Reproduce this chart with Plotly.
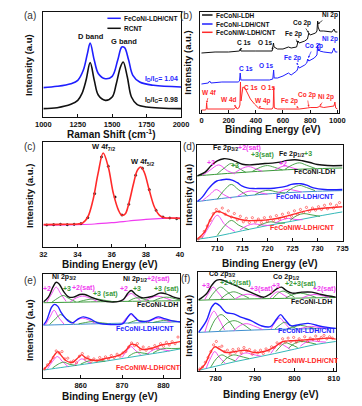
import plotly.graph_objects as go

# ---------------- DATA ----------------
# (a) Raman
a_x_rcnt = [1000, 1100, 1200, 1250, 1280, 1310, 1340, 1370, 1400, 1450, 1500, 1530, 1560, 1580, 1610, 1640, 1680, 1750, 2000]
a_y_rcnt = [25, 28, 38, 50, 70, 110, 163, 110, 65, 50, 60, 100, 150, 165, 120, 60, 38, 30, 25]
a_x_cnt = [1000, 1100, 1200, 1250, 1290, 1320, 1340, 1370, 1400, 1450, 1500, 1540, 1570, 1590, 1620, 1650, 1700, 1800, 2000]
a_y_cnt = [88, 92, 100, 110, 140, 190, 222, 170, 130, 115, 122, 170, 210, 208, 170, 125, 105, 95, 90]

# (b) XPS survey
b_x_ldh = [0, 100, 200, 280, 285, 290, 400, 520, 530, 534, 560, 600, 640, 660, 700, 712, 720, 760, 780, 790, 800, 840, 850, 855, 858, 862, 870, 900, 960, 975, 985, 1000]
b_y_ldh = [60, 61, 61, 62, 64, 62, 62, 62, 70, 66, 64, 64, 66, 65, 66, 72, 70, 72, 74, 80, 78, 80, 82, 92, 86, 84, 82, 82, 81, 84, 81, 81]
b_x_cnt = [0, 50, 60, 70, 150, 200, 270, 280, 285, 290, 400, 500, 525, 531, 535, 560, 600, 640, 660, 700, 708, 712, 720, 760, 775, 782, 790, 830, 850, 855, 860, 864, 870, 900, 960, 975, 985, 1000]
b_y_cnt = [29, 30, 32, 30, 31, 31, 31, 32, 40, 33, 33, 33, 34, 43, 35, 35, 37, 40, 38, 42, 44, 47, 45, 48, 50, 54, 52, 55, 58, 68, 62, 64, 62, 61, 60, 65, 61, 61]
b_x_w = [0, 30, 35, 38, 42, 100, 150, 200, 240, 255, 262, 275, 283, 287, 291, 297, 305, 320, 340, 360, 390, 420, 470, 520, 528, 532, 536, 560, 620, 700, 720, 780, 800, 850, 870, 900, 950, 975, 982, 988, 1000]
b_y_w = [3, 3, 4, 10, 4, 4, 4, 4, 4, 6, 4, 5, 8, 31, 12, 18, 26, 25, 20, 14, 9, 5, 4, 4, 6, 26, 5, 4, 4, 3.5, 4, 5, 5.5, 5.5, 6.5, 5.5, 6, 7, 11, 5, 4]

# (c) W 4f
c_x_fit = [32, 33, 34, 34.3, 34.6, 34.9, 35.2, 35.5, 35.8, 36.1, 36.4, 36.6, 36.8, 37.0, 37.3, 37.5, 37.7, 37.9, 38.2, 38.5, 38.8, 39.1, 39.5, 40]
c_y_fit = [67, 68, 69, 72, 90, 140, 220, 282, 240, 160, 110, 95, 100, 130, 195, 230, 240, 225, 170, 120, 95, 88, 87, 86]
c_x_bg = [32, 33, 34, 35, 36, 37, 38, 39, 40]
c_y_bg = [66, 66, 67, 69, 73, 78, 83, 86, 87]
c_x_pts = [32.2, 32.6, 33.0, 33.4, 33.8, 34.2, 34.6, 35.0, 35.4, 35.8, 36.2, 36.6, 37.0, 37.4, 37.8, 38.2, 38.6, 39.0, 39.4, 39.8]
c_y_pts = [66, 67, 68, 67, 68, 70, 88, 160, 270, 242, 150, 96, 128, 215, 236, 172, 110, 90, 87, 85]

# (d) Fe 2p
d_top_env_x = [706, 707.5, 708.8, 710, 711.3, 712.5, 713.7, 715, 716.5, 718, 719.5, 721, 722.5, 724, 725.5, 727, 728.5, 730, 732, 735]
d_top_env_y = [190, 200, 220, 234, 240, 238, 232, 224, 222, 224, 226, 227, 230, 235, 237, 234, 229, 223, 220, 220]
d_top_bg_x = [706, 712, 718, 724, 730, 735]
d_top_bg_y = [190, 197, 203, 208, 211, 213]
d_top_comp = [
    ("m", [707, 708.5, 710.3, 712, 713.5], [191, 206, 222, 205, 196]),
    ("g", [710, 711.5, 712.8, 714.2, 715.7], [196, 214, 226, 213, 200]),
    ("m", [713.5, 715, 716.3, 717.6, 719], [199, 212, 217, 211, 203]),
    ("g", [717, 718.6, 720, 721.4, 723], [203, 215, 220, 215, 207]),
    ("m", [721.5, 722.7, 723.6, 724.6, 726], [207, 216, 219, 215, 209]),
    ("g", [723.5, 725, 726.4, 727.8, 729.5], [209, 222, 228, 221, 212]),
]
d_mid_env_x = [706, 707, 708.1, 709, 709.9, 710.8, 711.8, 713.1, 714, 715, 716, 717.2, 718.5, 719.7, 721.3, 722.9, 724, 724.8, 725.8, 726.7, 728, 729.2, 731.4, 735]
d_mid_env_y = [115, 128, 150, 165, 175, 178, 180, 177, 170, 160, 155, 153, 153, 153, 154, 157, 161, 165, 167, 167, 162, 155, 150, 150]
d_mid_bg_x = [706, 712, 718, 724, 730, 735]
d_mid_bg_y = [115, 126, 135, 141, 145, 147]
d_mid_comp = [
    ("m", [707, 708.5, 709.8, 711.2, 712.8], [117, 135, 150, 136, 124]),
    ("g", [710, 711.5, 712.8, 714.2, 716], [122, 150, 165, 150, 132]),
    ("m", [714, 715.5, 716.8, 718.2, 720], [130, 142, 146, 142, 136]),
    ("g", [717.5, 719, 720.3, 721.6, 723.5], [135, 145, 148, 144, 139]),
    ("m", [722, 723.2, 724.2, 725.3, 726.8], [140, 148, 151, 148, 143]),
    ("g", [723.8, 725.2, 726.5, 727.8, 729.5], [142, 156, 162, 156, 147]),
]
d_bot_env_x = [706, 707.4, 708.7, 709.7, 710.6, 712, 713.6, 715.7, 718.2, 720.7, 723.2, 725.7, 728.3, 730.8, 735]
d_bot_env_y = [5, 25, 65, 85, 85, 75, 67, 60, 60, 63, 70, 80, 90, 95, 100]
d_bot_bg_x = [706, 710, 715, 720, 725, 730, 735]
d_bot_bg_y = [5, 14, 30, 45, 58, 72, 85]
d_bot_comp = [
    ("m", [707, 708.5, 710, 711.5, 713.5], [9, 45, 75, 48, 28]),
    ("g", [710, 711.5, 712.8, 714.3, 716.3], [16, 45, 60, 46, 33]),
    ("m", [714.5, 716, 717.3, 718.7, 720.5], [32, 45, 50, 47, 45]),
    ("g", [718, 719.5, 720.7, 722, 723.5], [42, 52, 56, 53, 52]),
    ("m", [721.5, 723, 724.2, 725.5, 727], [52, 62, 66, 63, 62]),
    ("g", [724.5, 726, 727.3, 728.5, 730.5], [60, 75, 80, 77, 72]),
]
d_pts_x = [706.2, 706.8, 707.4, 708.0, 708.6, 709.2, 709.8, 710.4, 711.0, 711.6, 712.2, 712.8, 713.4, 714.0, 714.6, 715.2,
           715.8, 716.4, 717.0, 717.6, 718.2, 718.8, 719.4, 720.0, 720.6, 721.2, 721.8, 722.4, 723.0, 723.6, 724.2, 724.8,
           725.4, 726.0, 726.6, 727.2, 727.8, 728.4, 729.0, 729.6, 730.2, 730.8, 731.4, 732.0, 732.6, 733.2, 733.8, 734.4]
d_pts_y = [6, 12, 28, 44, 60, 80, 92, 86, 96, 78, 88, 70, 80, 62, 72, 56, 66, 54, 68, 56, 64, 54, 68, 58, 70, 60, 74, 64,
           78, 68, 82, 72, 88, 78, 92, 84, 98, 86, 96, 90, 100, 92, 104, 94, 108, 96, 104, 112]

# (e) Ni 2p
e_top_env_x = [851, 852.2, 853.3, 854.1, 854.8, 856, 857.2, 858.3, 859.8, 861, 862.5, 864.8, 867.9, 870.2, 871.4, 872.2, 873.3, 874.8, 877.2, 879.1, 880.6, 882.5, 884]
e_top_env_y = [230, 245, 275, 290, 285, 260, 245, 245, 253, 253, 245, 235, 230, 237, 257, 265, 253, 243, 247, 257, 255, 245, 240]
e_top_bg_x = [851, 860, 870, 884]
e_top_bg_y = [228, 230, 232, 234]
e_top_comp = [
    ("m", [851.8, 853, 854.1, 855.2, 856.5], [229, 255, 275, 255, 232]),
    ("g", [853, 854.5, 855.8, 857, 858.8], [229, 242, 250, 242, 231]),
    ("m", [857.5, 859, 860.5, 862, 864], [231, 243, 248, 243, 232]),
    ("g", [859.5, 861.5, 863.5, 865.5, 867.5], [231, 237, 240, 236, 232]),
    ("m", [870, 871.2, 872.2, 873.2, 874.5], [232, 248, 256, 247, 234]),
    ("g", [871.5, 872.7, 873.8, 875, 876.5], [232, 240, 243, 240, 234]),
    ("m", [875.5, 877.2, 878.6, 880, 882], [233, 244, 248, 244, 235]),
    ("g", [877.5, 879.3, 880.7, 882.2, 884], [233, 242, 245, 242, 236]),
]
e_mid_env_x = [851, 851.8, 853, 853.7, 854.5, 855.2, 856.4, 857.9, 859.5, 860.6, 862.2, 864.1, 867.2, 870.2, 871.4, 872.2, 872.9, 874.1, 876.4, 878.7, 880.2, 882.2, 884]
e_mid_env_y = [160, 175, 215, 223, 217, 200, 180, 167, 180, 185, 180, 167, 162, 165, 185, 195, 187, 173, 173, 185, 180, 173, 170]
e_mid_bg_x = [851, 860, 870, 884]
e_mid_bg_y = [160, 163, 166, 170]
e_mid_comp = [
    ("m", [851.5, 852.6, 853.6, 854.6, 856], [161, 185, 205, 185, 163]),
    ("g", [852.5, 854, 855.2, 856.5, 858.5], [162, 180, 192, 180, 164]),
    ("m", [858, 859.3, 860.5, 861.8, 863.5], [164, 177, 181, 177, 165]),
    ("g", [859.5, 861.2, 862.8, 864.5, 866.5], [164, 168, 171, 168, 165]),
    ("m", [870, 871.2, 872.1, 873, 874.5], [166, 184, 192, 183, 168]),
    ("g", [871.5, 872.8, 873.8, 875, 876.5], [166, 172, 175, 172, 168]),
    ("m", [876, 877.5, 878.7, 880, 881.8], [168, 177, 181, 177, 169]),
    ("g", [877.5, 879.3, 880.7, 882.2, 884], [168, 173, 175, 173, 170]),
]
e_bot_env_x = [851, 852.5, 853.7, 854.5, 855.2, 856.4, 857.9, 859.5, 860.2, 861.4, 863.3, 866.4, 869.5, 871, 872.2, 873.3, 874.8, 877.2, 879.5, 881.8, 884]
e_bot_env_y = [25, 45, 70, 80, 70, 53, 47, 63, 70, 60, 53, 60, 70, 85, 102, 100, 87, 90, 100, 105, 110]
e_bot_bg_x = [851, 856, 861, 866, 871, 876, 881, 884]
e_bot_bg_y = [24, 33, 42, 51, 61, 71, 81, 88]
e_bot_comp = [
    ("m", [852, 853.2, 854.4, 855.6, 857], [28, 50, 65, 50, 34]),
    ("g", [853.2, 854.6, 855.9, 857.2, 859], [30, 42, 48, 42, 38]),
    ("m", [858.5, 859.5, 860.3, 861.2, 862.5], [38, 52, 58, 52, 44]),
    ("g", [860, 861.5, 862.8, 864.2, 866], [42, 50, 54, 52, 51]),
    ("m", [870, 871.3, 872.2, 873.1, 874.5], [62, 85, 95, 85, 70]),
    ("g", [871.5, 872.8, 873.8, 874.8, 876.5], [65, 75, 78, 76, 73]),
    ("m", [876, 877.5, 878.7, 879.8, 881.5], [72, 85, 89, 86, 82]),
    ("g", [877.5, 879.3, 880.7, 882, 884], [76, 87, 90, 89, 90]),
]
e_pts_x = [851.3, 852.0, 852.7, 853.4, 854.1, 854.8, 855.5, 856.2, 856.9, 857.6, 858.3, 859.0, 859.7, 860.4, 861.1, 861.8,
           862.5, 863.2, 863.9, 864.6, 865.3, 866.0, 866.7, 867.4, 868.1, 868.8, 869.5, 870.2, 870.9, 871.6, 872.3, 873.0,
           873.7, 874.4, 875.1, 875.8, 876.5, 877.2, 877.9, 878.6, 879.3, 880.0, 880.7, 881.4, 882.1, 882.8, 883.5]
e_pts_y = [28, 40, 50, 62, 82, 76, 80, 58, 60, 48, 52, 46, 66, 74, 58, 64, 50, 58, 52, 62, 56, 64, 58, 68, 62, 72, 66,
           76, 80, 94, 106, 98, 104, 86, 94, 84, 92, 88, 98, 90, 104, 96, 108, 100, 110, 104, 124]

# (f) Co 2p
f_top_env_x = [775.7, 777.7, 779, 780.2, 781.4, 783, 785, 787.4, 789.8, 792.3, 793.9, 795.5, 796.7, 797.9, 799.5, 801.9, 804.4, 806.8, 810.5]
f_top_env_y = [212, 230, 255, 270, 272, 265, 255, 242, 230, 220, 230, 245, 250, 240, 232, 235, 235, 228, 220]
f_top_bg_x = [775.7, 785, 795, 805, 810.5]
f_top_bg_y = [211, 214, 216, 218, 219]
f_top_comp = [
    ("m", [777.2, 778.4, 779.4, 780.5, 782], [212, 235, 250, 236, 214]),
    ("g", [778.3, 779.9, 781.3, 782.8, 784.8], [213, 238, 250, 238, 216]),
    ("g", [781.3, 783, 784.6, 786.2, 788.5], [215, 230, 236, 230, 217]),
    ("m", [785, 786.6, 788.2, 789.8, 791.8], [215, 225, 229, 225, 217]),
    ("m", [793.8, 795, 795.9, 796.8, 798.3], [217, 232, 236, 230, 219]),
    ("g", [794.6, 796, 797.1, 798.2, 800], [217, 233, 238, 233, 220]),
    ("g", [797.8, 799.7, 801.5, 803.3, 805.5], [218, 228, 232, 228, 219]),
    ("m", [802, 803.6, 805.2, 806.8, 808.8], [218, 225, 228, 225, 219]),
]
f_mid_env_x = [775.7, 777.7, 779, 780, 781, 782.6, 784.6, 786.6, 789, 791.5, 793.9, 795.5, 796.5, 797.5, 799.1, 801.1, 803.5, 806, 808.4, 810.5]
f_mid_env_y = [115, 150, 190, 202, 195, 175, 170, 160, 150, 135, 132, 155, 168, 155, 135, 138, 142, 135, 130, 127]
f_mid_bg_x = [775.7, 785, 795, 805, 810.5]
f_mid_bg_y = [115, 120, 124, 126, 127]
f_mid_comp = [
    ("m", [777.3, 778.6, 779.6, 780.7, 782.3], [116, 160, 178, 158, 122]),
    ("g", [778.4, 780, 781.4, 782.9, 785], [117, 155, 168, 155, 122]),
    ("g", [781, 783, 784.7, 786.4, 789], [119, 143, 150, 143, 122]),
    ("m", [784.6, 786.3, 787.9, 789.6, 792], [120, 136, 141, 135, 123]),
    ("m", [794, 795.3, 796.3, 797.3, 798.8], [124, 148, 158, 146, 126]),
    ("g", [795, 796.4, 797.5, 798.6, 800.5], [124, 138, 145, 138, 126]),
    ("g", [798, 800, 801.6, 803.3, 805.5], [125, 132, 136, 132, 126]),
    ("m", [801, 802.8, 804.4, 806, 808.5], [125, 130, 133, 130, 127]),
]
f_bot_env_x = [775.7, 777.3, 778.5, 779.8, 781, 782.6, 785, 787.4, 789.8, 792.3, 794.7, 797.1, 799.1, 801.9, 805.2, 808.4, 810.5]
f_bot_env_y = [2, 20, 50, 72, 65, 55, 58, 62, 55, 58, 70, 88, 90, 92, 95, 98, 95]
f_bot_bg_x = [775.7, 780, 785, 790, 795, 800, 805, 810.5]
f_bot_bg_y = [2, 14, 28, 40, 52, 65, 78, 88]
f_bot_comp = [
    ("m", [777.6, 778.8, 779.8, 780.9, 782.5], [8, 40, 58, 42, 22]),
    ("g", [778.8, 780.3, 781.6, 783, 785], [12, 38, 48, 40, 30]),
    ("g", [781.5, 783, 784.6, 786.2, 788.5], [22, 40, 48, 44, 37]),
    ("m", [785, 786.4, 787.7, 789.2, 791.5], [30, 48, 54, 50, 44]),
    ("m", [794, 795.4, 796.4, 797.4, 799], [52, 74, 82, 76, 64]),
    ("g", [795.3, 796.7, 797.8, 798.9, 800.8], [58, 76, 84, 80, 70]),
    ("g", [798.5, 800, 801.6, 803.2, 805.5], [68, 82, 88, 86, 80]),
    ("m", [801.5, 803, 804.4, 805.8, 808], [74, 86, 90, 88, 86]),
]
f_pts_x = [776.0, 776.7, 777.4, 778.1, 778.8, 779.5, 780.2, 780.9, 781.6, 782.3, 783.0, 783.7, 784.4, 785.1, 785.8, 786.5,
           787.2, 787.9, 788.6, 789.3, 790.0, 790.7, 791.4, 792.1, 792.8, 793.5, 794.2, 794.9, 795.6, 796.3, 797.0, 797.7,
           798.4, 799.1, 799.8, 800.5, 801.2, 801.9, 802.6, 803.3, 804.0, 804.7, 805.4, 806.1, 806.8, 807.5, 808.2, 808.9, 809.6]
f_pts_y = [6, 12, 26, 40, 58, 78, 88, 70, 74, 58, 62, 50, 64, 56, 66, 54, 70, 60, 64, 50, 60, 54, 62, 52, 66, 60, 72, 70,
           84, 80, 96, 86, 98, 88, 100, 86, 96, 90, 102, 88, 98, 94, 104, 92, 100, 106, 96, 102, 98]

# ---------------- STYLE ----------------
W, H = 362, 406
FONT = "Liberation Sans, Arial, sans-serif"
BLACK = "#111111"
BLUE = "#1f1fff"
RED = "#ff2a2a"
MAG = "#f03cf0"
GRN = "#3a9a3a"
TEAL = "#3f8fcf"
CYAN = "#35b8b8"
COMP = {"m": MAG, "g": GRN}

fig = go.Figure()


def sfx(p):
    return "" if p == 1 else str(p)


def add(p, x, y, color, width=1.0, mode="lines", shape="spline", msize=3, symbol="circle"):
    fig.add_trace(go.Scatter(
        x=x, y=y, mode=mode, xaxis="x" + sfx(p), yaxis="y" + sfx(p),
        line=dict(color=color, width=width, shape=shape),
        marker=dict(color=color, size=msize, symbol=symbol, line=dict(color=color, width=0.6)),
        showlegend=False, hoverinfo="skip"))


# (a)
add(1, a_x_rcnt, a_y_rcnt, BLACK, 1.6)
add(1, a_x_cnt, a_y_cnt, BLUE, 1.6)
# (b)
add(2, b_x_ldh, b_y_ldh, BLACK, 1.0, shape="linear")
add(2, b_x_cnt, b_y_cnt, BLUE, 1.0, shape="linear")
add(2, b_x_w, b_y_w, RED, 1.0, shape="linear")
# (c)
add(3, c_x_bg, c_y_bg, MAG, 1.2)
add(3, c_x_pts, c_y_pts, BLACK, mode="markers", msize=2.2)
add(3, c_x_fit, c_y_fit, RED, 1.6)


def spectrum(p, env_x, env_y, bg_x, bg_y, comps, env_color, bg_color, pts=None):
    add(p, bg_x, bg_y, bg_color, 1.0)
    for key, cx, cy in comps:
        add(p, cx, cy, COMP[key], 0.9)
    if pts is not None:
        add(p, pts[0], pts[1], env_color, mode="markers", msize=2.2, symbol="circle-open")
    add(p, env_x, env_y, env_color, 1.4)


spectrum(4, d_top_env_x, d_top_env_y, d_top_bg_x, d_top_bg_y, d_top_comp, BLACK, GRN)
spectrum(4, d_mid_env_x, d_mid_env_y, d_mid_bg_x, d_mid_bg_y, d_mid_comp, BLUE, TEAL)
spectrum(4, d_bot_env_x, d_bot_env_y, d_bot_bg_x, d_bot_bg_y, d_bot_comp, RED, CYAN, (d_pts_x, d_pts_y))
spectrum(5, e_top_env_x, e_top_env_y, e_top_bg_x, e_top_bg_y, e_top_comp, BLACK, GRN)
spectrum(5, e_mid_env_x, e_mid_env_y, e_mid_bg_x, e_mid_bg_y, e_mid_comp, BLUE, TEAL)
spectrum(5, e_bot_env_x, e_bot_env_y, e_bot_bg_x, e_bot_bg_y, e_bot_comp, RED, CYAN, (e_pts_x, e_pts_y))
spectrum(6, f_top_env_x, f_top_env_y, f_top_bg_x, f_top_bg_y, f_top_comp, BLACK, GRN)
spectrum(6, f_mid_env_x, f_mid_env_y, f_mid_bg_x, f_mid_bg_y, f_mid_comp, BLUE, TEAL)
spectrum(6, f_bot_env_x, f_bot_env_y, f_bot_bg_x, f_bot_bg_y, f_bot_comp, RED, CYAN, (f_pts_x, f_pts_y))

# ---------------- AXES ----------------
panels = {
    1: dict(box=(37, 12, 181, 117), xr=[1000, 2000], yr=[0, 315], tv=[1000, 1250, 1500, 1750, 2000],
            xt="Raman Shift (cm<sup>-1</sup>)", yt="Intensity (a.u)", tpos=(108, 134.5), ypos=(22, 65)),
    2: dict(box=(201, 12, 346, 113), xr=[-10, 1010], yr=[0, 101], tv=[0, 200, 400, 600, 800, 1000],
            xt="Binding Energy (eV)", yt="Intensity (a.u.)", tpos=(277, 130), ypos=(188, 63)),
    3: dict(box=(37, 142, 180, 247), xr=[32, 40], yr=[0, 315], tv=[32, 34, 36, 38, 40],
            xt="Binding Energy (eV)", yt="Intensity (a.u.)", tpos=(107, 264.5), ypos=(22, 196)),
    4: dict(box=(198, 145, 350, 241), xr=[706, 735], yr=[0, 280], tv=[710, 715, 720, 725, 730, 735],
            xt="Binding Energy (eV)", yt="Intensity (a.u)", tpos=(274, 263), ypos=(188, 195)),
    5: dict(box=(37, 274, 180, 378), xr=[851, 884], yr=[0, 315], tv=[860, 870, 880],
            xt="Binding Energy (eV)", yt="Intensity (a.u)", tpos=(107, 396), ypos=(22, 330)),
    6: dict(box=(199, 272, 343, 371), xr=[775.6, 810.5], yr=[0, 295], tv=[780, 790, 800, 810],
            xt="Binding Energy (eV)", yt="Intensity (a.u)", tpos=(275, 394), ypos=(188, 326)),
}

layout = dict(width=W, height=H, margin=dict(l=0, r=0, t=0, b=0), autosize=False,
              paper_bgcolor="white", plot_bgcolor="white", font=dict(family=FONT, color=BLACK))
for p, d in panels.items():
    l, t, r, b = d["box"]
    layout["xaxis" + sfx(p)] = dict(
        domain=[l / W, r / W], range=d["xr"], anchor="y" + sfx(p), tickvals=d["tv"],
        ticks="inside", ticklen=3, tickwidth=1, tickcolor=BLACK, showline=True, linecolor=BLACK,
        linewidth=1, mirror=True, showgrid=False, zeroline=False,
        tickfont=dict(size=7.5, family=FONT, weight="bold", color=BLACK))
    layout["yaxis" + sfx(p)] = dict(
        domain=[1 - b / H, 1 - t / H], range=d["yr"], anchor="x" + sfx(p), showticklabels=False,
        ticks="", showline=True, linecolor=BLACK, linewidth=1, mirror=True, showgrid=False, zeroline=False)
fig.update_layout(**layout)

# ---------------- ANNOTATIONS ----------------
anns = []


def ann(p, x, y, text, color=BLACK, size=7.5, xanchor="center", bold=True):
    anns.append(dict(x=x, y=y, xref="x" + sfx(p), yref="y" + sfx(p), text=text, showarrow=False,
                     xanchor=xanchor, yanchor="middle",
                     font=dict(size=size, color=color, family=FONT, weight="bold" if bold else "normal")))


def arrow(p, lx, ly, tx, ty, text, color):
    anns.append(dict(x=tx, y=ty, ax=lx, ay=ly, xref="x" + sfx(p), yref="y" + sfx(p),
                     axref="x" + sfx(p), ayref="y" + sfx(p), text=text, showarrow=True,
                     arrowhead=2, arrowsize=0.6, arrowwidth=0.7, arrowcolor=color, standoff=0,
                     font=dict(size=6.5, color=color, family=FONT, weight="bold")))


def paper(xp, yp, text, size=10, color="#333333", xanchor="center", bold=False, angle=0):
    anns.append(dict(x=xp / W, y=1 - yp / H, xref="paper", yref="paper", text=text, showarrow=False,
                     xanchor=xanchor, yanchor="middle", textangle=angle,
                     font=dict(size=size, color=color, family=FONT, weight="bold" if bold else "normal")))


# axis titles
for p, d in panels.items():
    paper(d["tpos"][0], d["tpos"][1], d["xt"], size=10, color=BLACK, bold=True)
    paper(d["ypos"][0], d["ypos"][1], d["yt"], size=9.5, color=BLACK, bold=True, angle=-90)

# panel letters
for lab, px, py in [("(a)", 23, 16), ("(b)", 186, 15), ("(c)", 23, 147), ("(d)", 189, 147), ("(e)", 23, 280), ("(f)", 186, 278)]:
    paper(px, py, lab)

# (a)
ann(1, 1345, 240, "D band", size=7.5)
ann(1, 1588, 225, "G band", size=7.5)
ann(1, 1860, 113, "I<sub>D</sub>/I<sub>G</sub>= 1.04", BLUE, 7)
ann(1, 1860, 50, "I<sub>D</sub>/I<sub>G</sub>= 0.98", BLACK, 7)
# legend (a)
shapes = []
for yp, col, txt in [(18.3, BLUE, "FeCoNi-LDH/CNT"), (28.3, BLACK, "RCNT")]:
    shapes.append(dict(type="line", xref="paper", yref="paper", x0=104 / W, x1=118 / W, y0=1 - yp / H, y1=1 - yp / H,
                       line=dict(color=col, width=1.5)))
    paper(119.5, yp, txt, size=6.5, color=BLACK, xanchor="left", bold=True)
# legend (b)
for yp, col, txt in [(15, BLACK, "FeCoNi-LDH"), (24, BLUE, "FeCoNi-LDH/CNT"), (32.3, RED, "FeCoNiW-LDH/CNT")]:
    shapes.append(dict(type="line", xref="paper", yref="paper", x0=203 / W, x1=214 / W, y0=1 - yp / H, y1=1 - yp / H,
                       line=dict(color=col, width=1.5)))
    paper(216, yp, txt, size=6.5, color=BLACK, xanchor="left", bold=True)

# (b) peak labels
for lx, ly, tx, ty, t in [(315, 70, 286, 63, "C 1s"), (471, 70, 531, 64, "O 1s"), (676, 79, 710, 70, "Fe 2p"),
                          (741, 90, 790, 80, "Co 2p"), (944, 98, 856, 89, "Ni 2p")]:
    arrow(2, lx, ly, tx, ty, t, BLACK)
for lx, ly, tx, ty, t in [(325, 44, 286, 39, "C 1s"), (476, 47, 531, 42, "O 1s"), (669, 55, 712, 48, "Fe 2p"),
                          (825, 67, 786, 55, "Co 2p"), (944, 74, 858, 68, "Ni 2p")]:
    arrow(2, lx, ly, tx, ty, t, BLUE)
for lx, ly, tx, ty, t in [(56, 20, 38, 10, "W 4f"), (205, 13, 255, 6, "W 4d"), (362, 25, 300, 20, "C 1s"),
                          (492, 25, 531, 22, "O 1s"), (455, 12, 425, 5, "W 4p"), (646, 12, 715, 5, "Fe 2p"),
                          (776, 18, 790, 6, "Co 2p"), (918, 16, 870, 7, "Ni 2p")]:
    arrow(2, lx, ly, tx, ty, t, RED)

# (c)
ann(3, 35.5, 300, "W 4f<sub>7/2</sub>", BLACK, 7.5)
ann(3, 37.8, 255, "W 4f<sub>5/2</sub>", BLACK, 7.5)

# (d)
ann(4, 708.7, 270, "Fe 2p<sub>3/2</sub><span style='color:%s'>+2(sat)</span>" % MAG, BLACK, 7, "left")
ann(4, 708.8, 230, "+2", MAG, 7)
ann(4, 713.6, 220, "+3", GRN, 7)
ann(4, 719.0, 250, "+3(sat)", GRN, 7)
ann(4, 722.0, 253, "Fe 2p<sub>1/2</sub><span style='color:%s'>+3</span>" % GRN, BLACK, 7, "left")
ann(4, 723.1, 225, "+2", MAG, 7)
ann(4, 729.4, 203, "FeCoNi-LDH", BLACK, 7)
ann(4, 727.5, 129, "FeCoNi-LDH/CNT", BLUE, 7)
ann(4, 727.0, 40, "FeCoNiW-LDH/CNT", RED, 7)

# (e)
ann(5, 855.9, 305, "Ni 2p<sub>3/2</sub>", BLACK, 7)
ann(5, 851.8, 270, "+2", MAG, 7)
ann(5, 856.6, 270, "+3", GRN, 7)
ann(5, 860.6, 273, "+2(sat)", MAG, 7)
ann(5, 866.0, 255, "+3 (sat)", GRN, 7)
ann(5, 869.8, 300, "Ni 2p<sub>1/2</sub><span style='color:%s'>+2(sat)</span>" % MAG, BLACK, 7, "left")
ann(5, 870.5, 270, "+2", MAG, 7)
ann(5, 873.5, 270, "+3", GRN, 7)
ann(5, 880.8, 270, "+3 (sat)", GRN, 7)
ann(5, 878.5, 223, "FeCoNi-LDH", BLACK, 7)
ann(5, 875.6, 150, "FeCoNi-LDH/CNT", BLUE, 7)
ann(5, 876.4, 32, "FeCoNiW-LDH/CNT", RED, 7)

# (f)
ann(6, 781.8, 290, "Co 2p<sub>3/2</sub>", BLACK, 7)
ann(6, 777.5, 255, "+3", MAG, 7)
ann(6, 780.6, 263, "+2+2(sat)", GRN, 7, "left")
ann(6, 791.6, 245, "+3(sat)", MAG, 7)
ann(6, 797.9, 280, "Co 2p<sub>1/2</sub>", BLACK, 7)
ann(6, 795.3, 255, "+3", MAG, 7)
ann(6, 797.1, 260, "+2+3(sat)", GRN, 7, "left")
ann(6, 807.6, 245, "+2(sat)", MAG, 7)
ann(6, 804.4, 208, "FeCoNi-LDH", BLACK, 7)
ann(6, 803.2, 120, "FeCoNi-LDH/CNT", BLUE, 7)
ann(6, 803.0, 30, "FeCoNiW-LDH/CNT", RED, 7)

fig.update_layout(annotations=anns, shapes=shapes)
fig.write_html("out.html", config={"displayModeBar": False},
               post_script="document.body.style.margin='0';document.body.style.overflow='hidden';")
